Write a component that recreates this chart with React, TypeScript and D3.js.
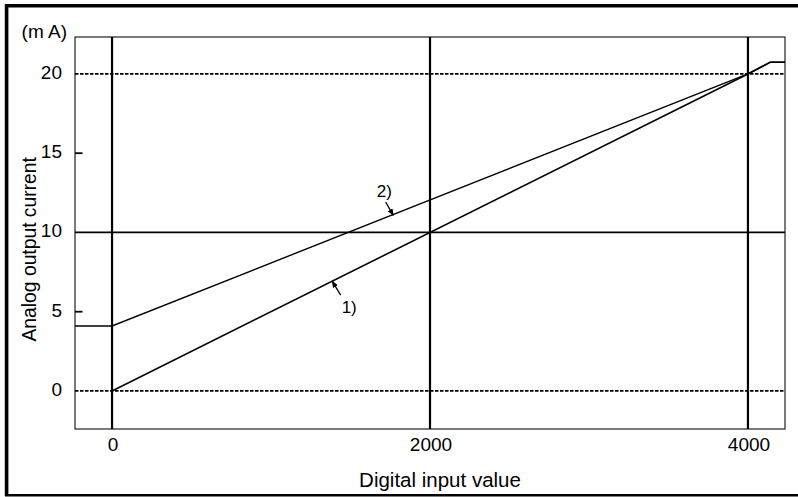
import React from "react";
import * as d3 from "d3";

const xTicks = [0, 2000, 4000];
const yTickLabels = [0, 5, 10, 15, 20];
const yMinorTicks = [5, 15];
const solidGridY = [10];
const dashedGridY = [0, 20];
const xDomain = [-233, 4233];
const yDomain = [-2.4, 22.33];

const line1X = [0, 4000, 4140, 4233];
const line1Y = [0, 20, 20.74, 20.74];
const line2X = [-233, 0, 4000, 4140, 4233];
const line2Y = [4.1, 4.1, 20, 20.74, 20.74];

const annotLabels = ["1)", "2)"];
const annotX = [1385, 1769];
const annotY = [6.925, 11.08];

const W = 798;
const H = 497;
const FONT = "Arial, 'Liberation Sans', Helvetica, sans-serif";

export default function App() {
  const x = d3.scaleLinear().domain(xDomain).range([75, 785]);
  const y = d3.scaleLinear().domain(yDomain).range([429, 37]);
  const lineGen = d3
    .line<[number, number]>()
    .x((d) => x(d[0]))
    .y((d) => y(d[1]));
  const l1 = line1X.map((v, i) => [v, line1Y[i]] as [number, number]);
  const l2 = line2X.map((v, i) => [v, line2Y[i]] as [number, number]);

  const tailOff = [
    [8.4, 14],
    [-7.6, -13.3],
  ];
  const labelOff = [
    [9.4, 31.6],
    [-16.6, -18.3],
  ];

  return (
    <svg
      width={W}
      height={H}
      style={{ position: "absolute", left: 0, top: 0, background: "#fff" }}
      fontFamily={FONT}
    >
      <defs>
        <marker
          id="arr"
          viewBox="0 0 10 10"
          refX="9"
          refY="5"
          markerWidth="7"
          markerHeight="7"
          orient="auto"
          markerUnits="userSpaceOnUse"
        >
          <path d="M0,1 L10,5 L0,9 Z" fill="#000" />
        </marker>
      </defs>
      <rect x={0} y={0} width={W} height={H} fill="#fff" />
      {/* outer frame */}
      <line x1={5} x2={W} y1={5.8} y2={5.8} stroke="#000" strokeWidth={3.6} />
      <line x1={6.6} x2={6.6} y1={4} y2={496} stroke="#000" strokeWidth={3.6} />
      <line x1={5} x2={W} y1={495.2} y2={495.2} stroke="#000" strokeWidth={2.4} />

      {/* plot box */}
      <rect
        x={x(xDomain[0])}
        y={y(yDomain[1])}
        width={x(xDomain[1]) - x(xDomain[0])}
        height={y(yDomain[0]) - y(yDomain[1])}
        fill="none"
        stroke="#222"
        strokeWidth={1.2}
      />

      {/* grid */}
      {dashedGridY.map((v) => (
        <line
          key={"dg" + v}
          x1={x(xDomain[0])}
          x2={x(xDomain[1])}
          y1={y(v)}
          y2={y(v)}
          stroke="#000"
          strokeWidth={1.7}
          strokeDasharray="3.5,1.5"
        />
      ))}
      {solidGridY.map((v) => (
        <line
          key={"sg" + v}
          x1={x(xDomain[0])}
          x2={x(xDomain[1])}
          y1={y(v)}
          y2={y(v)}
          stroke="#000"
          strokeWidth={1.8}
        />
      ))}
      {xTicks.map((v) => (
        <line
          key={"vg" + v}
          x1={x(v)}
          x2={x(v)}
          y1={y(yDomain[0])}
          y2={y(yDomain[1])}
          stroke="#000"
          strokeWidth={2.2}
        />
      ))}
      {yMinorTicks.map((v) => (
        <line
          key={"mt" + v}
          x1={x(xDomain[0])}
          x2={x(xDomain[0]) + 7.5}
          y1={y(v)}
          y2={y(v)}
          stroke="#000"
          strokeWidth={1.8}
        />
      ))}

      {/* data lines */}
      <path d={lineGen(l2) || ""} fill="none" stroke="#000" strokeWidth={1.4} />
      <path d={lineGen(l1) || ""} fill="none" stroke="#000" strokeWidth={1.6} />

      {/* annotations */}
      {annotLabels.map((lab, i) => {
        const tx = x(annotX[i]);
        const ty = y(annotY[i]);
        return (
          <g key={lab}>
            <line
              x1={tx + tailOff[i][0]}
              y1={ty + tailOff[i][1]}
              x2={tx}
              y2={ty}
              stroke="#000"
              strokeWidth={1.3}
              markerEnd="url(#arr)"
            />
            <text x={tx + labelOff[i][0]} y={ty + labelOff[i][1]} fontSize={17} fill="#000">
              {lab}
            </text>
          </g>
        );
      })}

      {/* y tick labels */}
      {yTickLabels.map((v) => (
        <text
          key={"yl" + v}
          x={62}
          y={y(v) + 5}
          textAnchor="end"
          fontSize={19}
          fill="#000"
        >
          {v}
        </text>
      ))}
      <text x={67} y={38} textAnchor="end" fontSize={19} fill="#000">
        (m A)
      </text>

      {/* x tick labels */}
      {xTicks.map((v) => (
        <text
          key={"xl" + v}
          x={x(v) + 1}
          y={450.7}
          textAnchor="middle"
          fontSize={19}
          fill="#000"
        >
          {v}
        </text>
      ))}

      {/* axis titles */}
      <text x={440} y={486.5} textAnchor="middle" fontSize={20.5} fill="#000">
        Digital input value
      </text>
      <text
        transform={`translate(36,249.3) rotate(-90)`}
        textAnchor="middle"
        fontSize={19.3}
        fill="#000"
      >
        Analog output current
      </text>
    </svg>
  );
}
